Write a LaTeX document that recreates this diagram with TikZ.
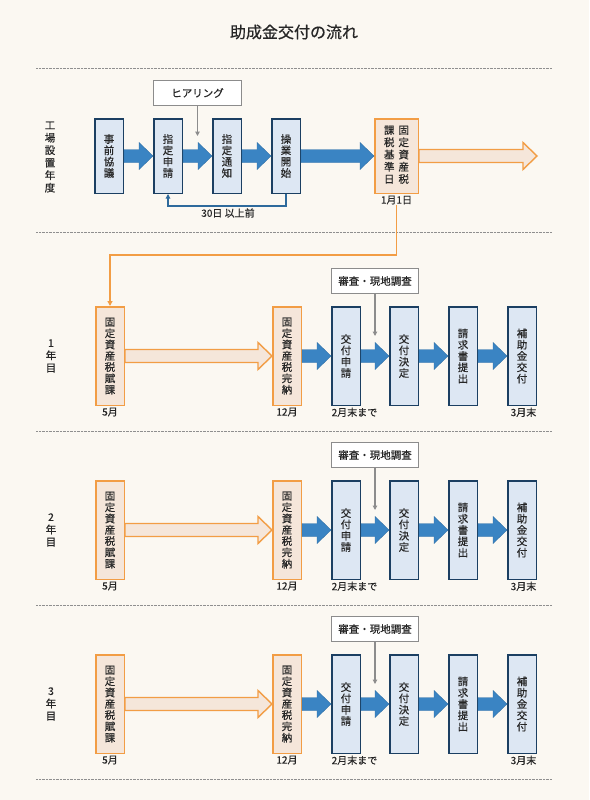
\documentclass[tikz,border=0pt]{standalone}
\usepackage{fontspec}
\setmainfont{Noto Sans CJK JP}[FakeBold=0.5]
\usetikzlibrary{positioning,arrows.meta,calc}

\definecolor{bgcream}{HTML}{FBF8F2}
\definecolor{inkgray}{HTML}{262626}
\definecolor{boxblue}{HTML}{DDE7F3}
\definecolor{boxnavy}{HTML}{1B3F62}
\definecolor{flowblue}{HTML}{3A84C3}
\definecolor{taxorange}{HTML}{F29D45}
\definecolor{taxpeach}{HTML}{F5E6DA}
\definecolor{notegray}{HTML}{8C8C8C}
\definecolor{rulegray}{HTML}{8F8F8F}

% fat block arrow between two anchors (same height)
\newcommand{\flowarrow}[3]{%
  \path[#1] let \p1=(#2), \p2=(#3) in
    (\x1,\y1+6.5pt) -- (\x2-14pt,\y1+6.5pt) -- (\x2-14pt,\y1+13.5pt) -- (\x2,\y1)
    -- (\x2-14pt,\y1-13.5pt) -- (\x2-14pt,\y1-6.5pt) -- (\x1,\y1-6.5pt) -- cycle;}

\begin{document}
\begin{tikzpicture}[
  x=1pt, y=-1pt,
  >=Stealth,
  stepblue/.style={draw=boxnavy, fill=boxblue, line width=1.5pt, minimum width=28.5pt, minimum height=98.5pt, inner sep=0pt, align=center, text=inkgray, font=\fontsize{10.5}{11.3}\selectfont},
  steptax/.style={stepblue, draw=taxorange, fill=taxpeach},
  notebox/.style={draw=notegray, fill=white, line width=1.2pt, minimum width=86.8pt, minimum height=24.8pt, inner sep=0pt, text=inkgray, font=\fontsize{10.5}{12}\selectfont},
  datelbl/.style={inner sep=0.5pt, text=inkgray, font=\fontsize{10}{11}\selectfont},
  yearlbl/.style={align=center, inner sep=0pt, text=inkgray, font=\fontsize{10.5}{12.5}\selectfont},
  sepline/.style={rulegray, line width=0.9pt, dash pattern=on 0.7pt off 0.7pt},
  bluearr/.style={fill=flowblue, draw=flowblue!85!black, line width=0.4pt},
  taxarr/.style={fill=taxpeach, draw=taxorange, line width=1.4pt},
  backline/.style={draw=flowblue!80!black, line width=1.1pt, -{Triangle[length=4.5pt,width=4.5pt]}},
  checkline/.style={draw=notegray, line width=1.1pt, -{Triangle[length=4.5pt,width=4.5pt]}},
  taxline/.style={draw=taxorange, line width=1.6pt, -{Triangle[length=5pt,width=5pt]}}
]
  \fill[bgcream] (0,0) rectangle (589,800);

  \node[text=inkgray, font=\fontsize{16}{18}\selectfont] (title) at (294,32) {助成金交付の流れ};
  \foreach \yy in {68,232,431,605,779}
    \draw[sepline] (36,\yy) -- (552,\yy);

  % year of setting up the plant
  \node[yearlbl] (yr0) at (50,157) {工\\場\\設\\置\\年\\度};
  \node[stepblue, minimum height=74.5pt] (pre) at (109,156) {事\\前\\協\\議};
  \node[stepblue, minimum height=74.5pt, right=29pt of pre] (apply) {指\\定\\申\\請};
  \node[stepblue, minimum height=74.5pt, right=29pt of apply] (notice) {指\\定\\通\\知};
  \node[stepblue, minimum height=74.5pt, right=29pt of notice] (start) {操\\業\\開\\始};
  \node[steptax, minimum height=74.5pt, minimum width=43.5pt, right=73pt of start] (base)
    {\begin{tabular}{@{}c@{\hspace{4pt}}c@{}}課&固\\税&定\\基&資\\準&産\\日&税\end{tabular}};
  \node[notebox, minimum width=87.8pt, above=12pt of apply.north west, anchor=south west] (hear) {ヒアリング};
  \coordinate[below=30pt of hear.south] (hearend);
  \draw[checkline] (hear.south) -- (hearend);

  \flowarrow{bluearr}{pre.east}{apply.west}
  \flowarrow{bluearr}{apply.east}{notice.west}
  \flowarrow{bluearr}{notice.east}{start.west}
  \flowarrow{bluearr}{start.east}{base.west}
  \coordinate[right=118pt of base.east] (baseend);
  \flowarrow{taxarr}{base.east}{baseend}

  \draw[backline] (start.south) -- ++(0,12) -| (apply.south);
  \node[datelbl] (lead) at (228,213) {30日 以上前};
  \node[datelbl, below=1pt of base] (jan) {1月1日};

  % 1st to 3rd year
  \foreach \k/\yc in {1/356,2/530,3/704}{
    \node[yearlbl] (yr\k) at (51,\yc) {\k\\年\\目};
    \node[steptax] (tax\k) at (110,\yc) {固\\定\\資\\産\\税\\賦\\課};
    \node[steptax, right=147pt of tax\k] (paid\k) {固\\定\\資\\産\\税\\完\\納};
    \node[stepblue, right=29pt of paid\k] (req\k) {交\\付\\申\\請};
    \node[stepblue, right=28pt of req\k] (dec\k) {交\\付\\決\\定};
    \node[stepblue, right=29pt of dec\k] (bill\k) {請\\求\\書\\提\\出};
    \node[stepblue, right=29pt of bill\k] (pay\k) {補\\助\\金\\交\\付};
    \node[notebox, above=12pt of req\k.north west, anchor=south west] (insp\k) {審査・現地調査};
    \coordinate[below=42pt of insp\k.south] (inspend\k);
    \draw[checkline] (insp\k.south) -- (inspend\k);

    \flowarrow{taxarr}{tax\k.east}{paid\k.west}
    \flowarrow{bluearr}{paid\k.east}{req\k.west}
    \flowarrow{bluearr}{req\k.east}{dec\k.west}
    \flowarrow{bluearr}{dec\k.east}{bill\k.west}
    \flowarrow{bluearr}{bill\k.east}{pay\k.west}

    \node[datelbl, below=1pt of tax\k] (may\k) {5月};
    \node[datelbl, below=1pt of paid\k] (dlbl\k) {12月};
    \node[datelbl, below=1pt of req\k.south west, anchor=north west] (feb\k) {2月末まで};
    \node[datelbl, below=1pt of pay\k.south east, anchor=north east] (mar\k) {3月末};
  }

  \draw[taxline] (jan.south) -- ++(0,50) -| (tax1.north);
\end{tikzpicture}
\end{document}
